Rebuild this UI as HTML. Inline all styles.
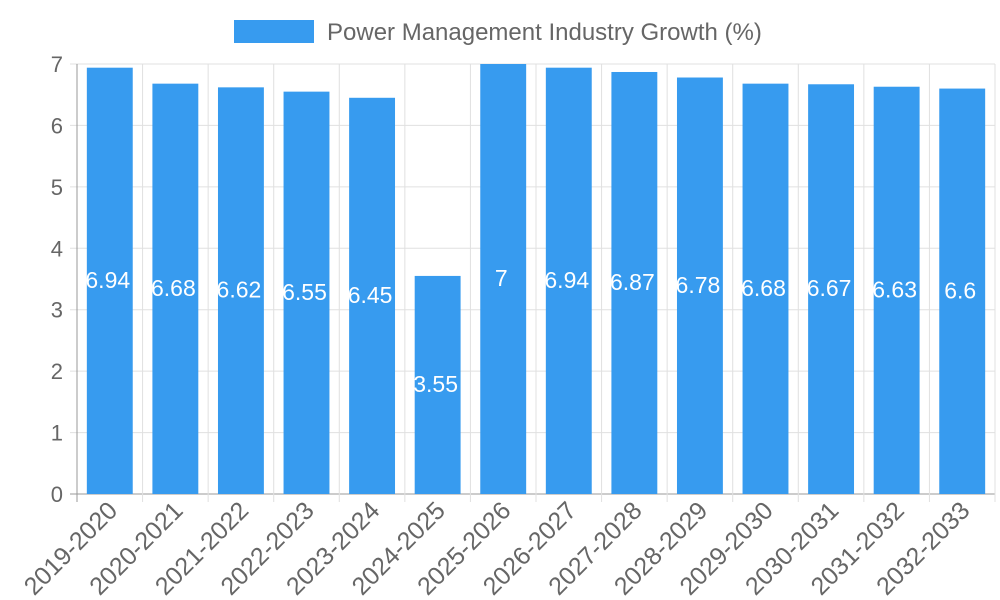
<!DOCTYPE html>
<html><head><meta charset="utf-8"><style>
body{margin:0;background:#fff;}
svg{display:block;font-family:"Liberation Sans",sans-serif;}
</style></head><body>
<svg id="chart" width="1000" height="600">
<g>
<rect x="234" y="20" width="80" height="23" fill="#379bef"></rect>
<text x="327" y="40" font-size="24" fill="#666">Power Management Industry Growth (%)</text>
</g>
<g id="grid"></g><g id="bars"></g><g id="axes"></g>
</svg>
<script>
const categories=["2019-2020","2020-2021","2021-2022","2022-2023","2023-2024","2024-2025","2025-2026","2026-2027","2027-2028","2028-2029","2029-2030","2030-2031","2031-2032","2032-2033"];
const values=[6.94,6.68,6.62,6.55,6.45,3.55,7,6.94,6.87,6.78,6.68,6.67,6.63,6.6];
const labels=["6.94","6.68","6.62","6.55","6.45","3.55","7","6.94","6.87","6.78","6.68","6.67","6.63","6.6"];
const yTicks=[0,1,2,3,4,5,6,7];
const NS="http://www.w3.org/2000/svg";
const L=77,R=995,T=64,B=494,ymax=7;
const bw=(R-L)/categories.length;
const y=v=>B-(v/ymax)*(B-T);
const x=i=>L+i*bw;
function mk(p,tag,a){const e=document.createElementNS(NS,tag);for(const k in a)e.setAttribute(k,a[k]);p.appendChild(e);return e;}
const grid=document.getElementById('grid'),bars=document.getElementById('bars'),axes=document.getElementById('axes');
yTicks.forEach(t=>{
 const l=mk(grid,'line',{x1:L-7,x2:R,y1:y(t),y2:y(t),stroke:t===0?'#999':'#e0e0e0','stroke-width':1});
 
 
 const tx=mk(axes,'text',{x:L-14,y:y(t)+8,'text-anchor':'end','font-size':22,fill:'#666'});
 tx.textContent=t;
 
 
});
for(let i=0;i<=categories.length;i++){
 const l=mk(grid,'line',{x1:x(i),x2:x(i),y1:T,y2:B+8,stroke:i===0?'#999':'#e0e0e0','stroke-width':1});
 
 
}
categories.forEach((c,i)=>{
 const bx=x(i)+bw*0.15,w=bw*0.7,top=y(values[i]);
 const r=mk(bars,'rect',{x:bx,y:top,width:w,height:B-top,fill:'#379bef'});
 
 
 const vt=mk(bars,'text',{x:x(i)+bw/2-2,y:(top+B)/2+7,'text-anchor':'middle','font-size':23,fill:'#fff'});
 vt.textContent=labels[i];
 
 
 const cx=x(i)+bw/2+9,cy=B+18;
 const xt=mk(axes,'text',{x:cx,y:cy,'text-anchor':'end','font-size':25,fill:'#666',transform:`rotate(-45 ${cx} ${cy})`});
 xt.textContent=c;
 
 
});
</script>
</body></html>
